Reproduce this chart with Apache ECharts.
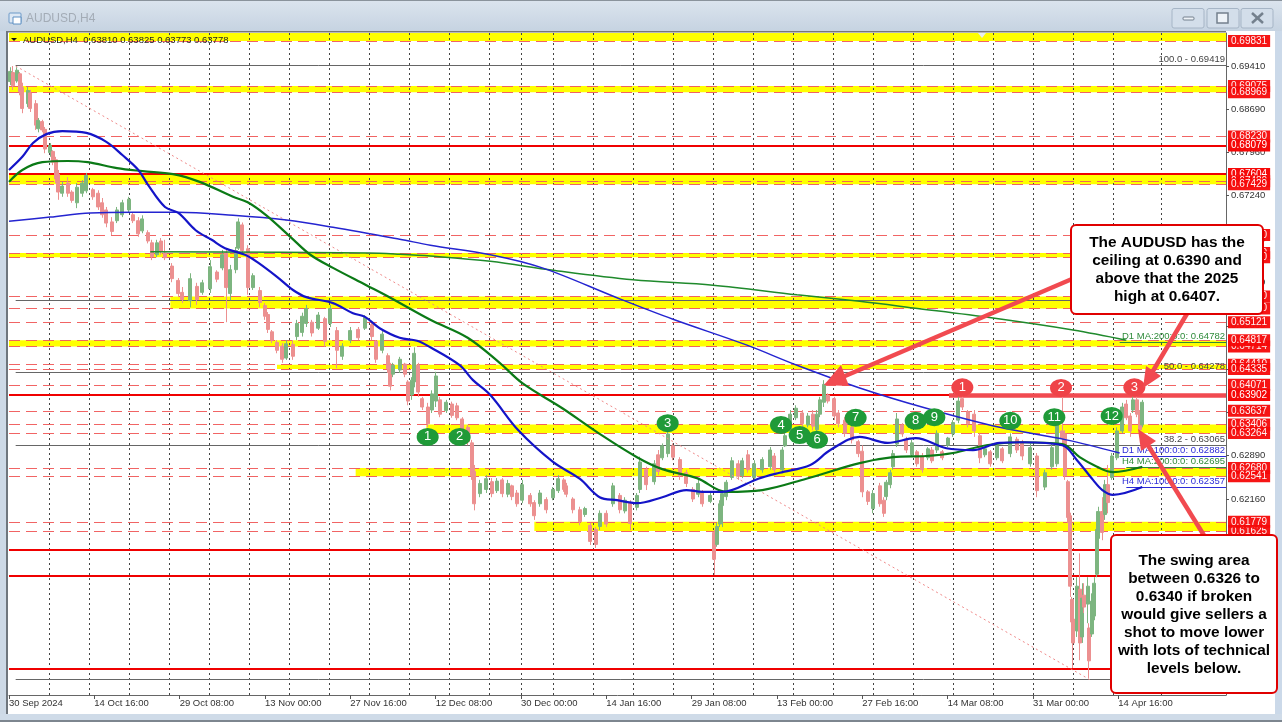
<!DOCTYPE html>
<html><head><meta charset="utf-8">
<style>html,body{margin:0;padding:0;background:#fff;overflow:hidden}#c{width:1282px;height:722px}</style>
<script src="https://cdn.jsdelivr.net/npm/echarts@6/dist/echarts.min.js"></script>
</head><body><div id="c"></div>
<script>
// candle positions in H4 bars since 30 Sep 2024, prices in pips (0.0001)
const barIndex=[1,3,6,8,10,14,16,20,22,25,27,31,33,35,37,40,44,47,51,55,58,63,67,70,73,77,81,85,90,93,
97,100,104,107,111,114,117,122,127,130,136,141,145,151,156,160,163,166,170,172,175,179,183,188,192,194,197,201,205,208,
213,216,220,223,227,232,237,241,246,250,256,262,267,272,275,280,284,286,288,293,297,299,302,304,307,310,314,317,320,323,
328,332,336,340,344,347,349,353,358,362,366,370,374,377,381,385,391,394,398,403,408,412,416,418,423,428,432,436,440,443,
448,453,458,462,466,471,473,478,484,487,490,494,498,503,508,513,517,520,526,529,531,533,535,538,542,547,550,554,559,565,
571,574,580,582,586,590,595,599,603,606,608,611,614,619,622,627,632,637,640,644,648,653,656,658,661,663,666,670,673,677,
681,685,689,692,696,700,704,708,712,715,719,724,728,732,736,741,745,751,756,760,766,771,777,782,786,790,792,794,796,797,
798,801,803,805,806,809,810,812,814,816,817,820,822,824,827,831,835,838,841,843,846,848,850];
const highs=[6939,6941,6939,6931,6913,6906,6901,6884,6854,6851,
6839,6812,6800,6789,6767,6747,6755,6733,6745,6750,
6762,6737,6733,6720,6705,6688,6705,6717,6722,6695,
6688,6691,6666,6650,6650,6653,6650,6611,6586,6571,
6594,6578,6583,6616,6599,6633,6633,6608,6638,6686,
6679,6641,6594,6571,6544,6529,6499,6482,6477,6482,
6482,6516,6528,6541,6516,6529,6521,6541,6504,6477,
6504,6504,6524,6511,6482,6499,6460,6444,6444,6454,
6444,6415,6420,6470,6444,6387,6377,6398,6429,6387,
6382,6379,6377,6353,6340,6315,6273,6248,6256,6251,
6251,6251,6248,6240,6231,6248,6226,6214,6231,6219,
6236,6256,6251,6243,6219,6203,6203,6176,6169,6197,
6197,6243,6226,6219,6214,6226,6287,6270,6281,6298,
6309,6331,6309,6286,6265,6236,6248,6231,6226,6164,
6176,6214,6231,6248,6286,6281,6285,6298,6281,6286,
6303,6293,6303,6326,6365,6373,6365,6360,6365,6365,
6387,6415,6393,6387,6365,6353,6341,6315,6306,6231,
6231,6243,6219,6248,6265,6298,6360,6343,6320,6315,
6298,6293,6303,6303,6331,6298,6320,6348,6387,6387,
6365,6365,6326,6303,6298,6309,6303,6326,6320,6315,
6309,6293,6265,6309,6360,6387,6331,6248,6193,6052,
6025,6085,6125,6075,6075,6085,6008,6058,6085,6176,
6203,6219,6248,6273,6293,6336,6377,6382,6360,6387,
6387,6365,6382];
const lows=[6909,6901,6913,6892,6862,6872,6864,6834,6830,6830,
6795,6789,6775,6745,6717,6722,6722,6712,6703,6722,
6728,6717,6700,6687,6671,6658,6678,6688,6695,6678,
6655,6661,6644,6616,6621,6625,6616,6579,6554,6544,
6537,6541,6558,6561,6579,6599,6512,6549,6594,6633,
6625,6558,6566,6537,6516,6494,6477,6460,6444,6449,
6449,6482,6488,6504,6488,6499,6471,6504,6435,6449,
6477,6482,6499,6482,6444,6460,6427,6398,6420,6427,
6420,6373,6382,6403,6387,6365,6336,6360,6370,6353,
6360,6352,6348,6320,6306,6248,6197,6219,6226,6219,
6226,6219,6219,6214,6203,6209,6203,6181,6203,6192,
6214,6226,6228,6219,6192,6172,6186,6139,6134,6164,
6169,6203,6192,6192,6164,6197,6226,6231,6240,6256,
6281,6286,6281,6248,6236,6211,6219,6203,6209,6089,
6136,6169,6169,6214,6248,6248,6251,6260,6248,6260,
6265,6260,6260,6303,6326,6348,6336,6336,6331,6326,
6353,6370,6376,6348,6336,6320,6309,6286,6219,6206,
6192,6203,6186,6214,6234,6265,6303,6320,6293,6286,
6270,6260,6281,6276,6293,6281,6303,6320,6343,6365,
6336,6320,6276,6286,6270,6281,6276,6286,6293,6281,
6270,6219,6231,6265,6270,6309,6248,6176,6052,6002,
5933,5985,5946,5975,6025,6008,5916,5985,6013,6085,
6118,6147,6181,6192,6248,6281,6326,6348,6320,6360,
6353,6326,6336];
const opens=[6915,6930,6916,6928,6905,6878,6896,6878,6836,6848,
6835,6796,6798,6784,6760,6728,6745,6730,6712,6728,
6732,6734,6728,6712,6700,6680,6682,6692,6700,6692,
6682,6665,6662,6645,6625,6648,6628,6606,6582,6562,
6548,6572,6562,6568,6596,6603,6628,6560,6600,6636,
6675,6635,6570,6565,6540,6525,6496,6478,6472,6452,
6475,6488,6495,6510,6512,6502,6518,6510,6498,6455,
6482,6500,6502,6508,6480,6465,6456,6440,6425,6432,
6442,6412,6390,6412,6440,6384,6370,6365,6380,6382,
6364,6375,6372,6350,6336,6310,6262,6225,6232,6245,
6230,6248,6224,6238,6226,6214,6222,6210,6208,6215,
6218,6230,6248,6238,6216,6198,6190,6172,6165,6170,
6192,6208,6222,6196,6210,6202,6232,6265,6245,6290,
6285,6292,6305,6282,6260,6232,6224,6228,6212,6160,
6140,6174,6205,6220,6252,6275,6255,6290,6252,6265,
6270,6288,6265,6305,6330,6352,6360,6340,6358,6332,
6358,6378,6390,6384,6360,6348,6336,6312,6296,6228,
6200,6238,6214,6220,6240,6270,6308,6340,6316,6290,
6295,6288,6285,6298,6298,6295,6306,6325,6348,6384,
6362,6358,6322,6290,6295,6285,6300,6292,6316,6310,
6275,6288,6236,6270,6275,6330,6325,6245,6188,6048,
6015,5995,6065,5985,6055,6040,6000,5990,6020,6090,
6150,6195,6190,6240,6252,6285,6330,6375,6355,6365,
6382,6360,6340];
const closes=[6932,6908,6934,6898,6870,6900,6870,6842,6850,6834,
6802,6808,6780,6752,6730,6740,6728,6716,6738,6745,
6758,6722,6705,6692,6678,6664,6700,6712,6718,6682,
6660,6685,6648,6622,6645,6630,6620,6585,6560,6550,
6585,6550,6578,6605,6584,6625,6570,6600,6632,6680,
6632,6570,6590,6545,6522,6500,6482,6465,6450,6476,
6455,6510,6522,6535,6494,6524,6480,6535,6465,6472,
6498,6486,6520,6488,6450,6492,6434,6405,6440,6450,
6425,6380,6415,6460,6395,6370,6342,6392,6422,6358,
6378,6356,6352,6326,6312,6255,6208,6242,6250,6225,
6246,6225,6242,6220,6208,6240,6208,6188,6226,6198,
6232,6250,6232,6224,6198,6178,6200,6145,6140,6192,
6174,6238,6198,6214,6175,6222,6278,6240,6275,6262,
6305,6325,6286,6255,6242,6216,6242,6208,6222,6115,
6170,6208,6225,6244,6280,6254,6280,6265,6275,6282,
6298,6265,6298,6322,6358,6368,6342,6355,6338,6358,
6382,6408,6380,6355,6342,6326,6315,6292,6228,6212,
6225,6208,6192,6244,6260,6292,6350,6325,6298,6310,
6275,6265,6300,6280,6326,6285,6318,6344,6380,6370,
6342,6330,6285,6300,6275,6305,6280,6320,6298,6288,
6302,6230,6260,6302,6345,6318,6255,6185,6070,6010,
5975,6070,5975,6050,6035,6070,5945,6045,6075,6165,
6195,6160,6240,6210,6288,6330,6370,6352,6330,6382,
6358,6332,6378];

// moving averages: [bar, pips]
const h4Ma100=[[0,6767],[10,6789],[18,6812],[28,6827],[40,6832],[58,6829],[73,6814],[85,6792],[97,6767],[104,6743],[117,6705],[127,6695],[140,6666],[152,6650],[162,6636],[177,6625],[186,6613],[201,6588],[213,6566],[223,6554],[243,6544],[258,6527],[267,6521],[278,6502],[293,6486],[306,6481],[316,6470],[338,6440],[348,6415],[361,6390],[382,6331],[408,6278],[428,6250],[443,6219],[456,6214],[471,6209],[490,6219],[508,6231],[520,6228],[535,6228],[562,6250],[578,6260],[601,6273],[616,6298],[638,6320],[659,6310],[680,6318],[703,6301],[723,6298],[743,6310],[760,6311],[790,6306],[801,6281],[813,6248],[820,6231],[828,6223],[850,6236]];
const h4Ma200=[[0,6747],[10,6767],[25,6780],[44,6782],[59,6780],[81,6770],[100,6765],[123,6760],[143,6747],[168,6722],[179,6713],[193,6691],[211,6655],[226,6625],[243,6603],[268,6574],[286,6553],[316,6516],[344,6486],[368,6444],[385,6410],[415,6368],[441,6328],[471,6286],[490,6266],[516,6251],[538,6228],[565,6231],[598,6250],[638,6276],[663,6286],[688,6288],[708,6293],[733,6306],[758,6311],[790,6308],[803,6286],[816,6270],[828,6261],[850,6270]];
const d1Ma100=[[0,6681],[31,6688],[61,6695],[93,6696],[126,6696],[168,6691],[208,6683],[243,6671],[293,6651],[316,6641],[361,6625],[400,6603],[456,6553],[498,6517],[553,6474],[591,6440],[638,6402],[688,6368],[743,6336],[793,6315],[833,6293]];
const d1Ma200=[[106,6630],[269,6628],[293,6626],[316,6623],[361,6614],[408,6599],[468,6583],[528,6574],[591,6558],[638,6547],[678,6536],[738,6519],[798,6499],[838,6482]];
const fibTrend=[[5,6941],[811,5913]];

const dateTicks=[0,64,128,192,256,320,384,448,512,576,640,704,768,832];
const dateLabels=["30 Sep 2024","14 Oct 16:00","29 Oct 08:00","13 Nov 00:00","27 Nov 16:00","12 Dec 08:00","30 Dec 00:00","14 Jan 16:00","29 Jan 08:00","13 Feb 00:00","27 Feb 16:00","14 Mar 08:00","31 Mar 00:00","14 Apr 16:00"];
const weekSeparators=[30,60,90,120,150,180,210,240,270,300,330,360,384,408,438,468,498,528,558,588,618,648,678,708,738,768,798,828,864];
const priceTicks=[0.6941,0.6869,0.6796,0.6724,0.6651,0.6579,0.6506,0.6434,0.6361,0.6289,0.6216,0.6144,0.6071];

// yellow zones: [upper, lower, first bar]
const bandUpper=[0.69963,0.69075,0.67604,0.6628,0.6555,0.64817,0.6441,0.63406,0.6268,0.61779];
const bandLower=[0.69831,0.68969,0.67429,0.6621,0.6535,0.64714,0.64335,0.63264,0.62541,0.61625];
const bandStart=[0,0,0,0,121,0,201,313,260,394];

// horizontal levels in paint order; solid ones flagged
const levelPrices=[0.63778,0.69831,0.69075,0.68969,0.6823,0.68079,0.67604,0.6748,0.67429,0.6658,0.6628,0.6621,0.6555,0.6535,0.65121,0.64714,0.64817,0.6441,0.64335,0.64071,0.63902,0.63637,0.63406,0.63264,0.6268,0.62541,0.61625,0.61779,0.61307,0.6087,0.5932];
const levelSolid =[2,0,0,0,0,1,1,0,0,0,0,0,0,0,0,0,0,0,0,0,1,0,0,0,0,0,0,0,1,1,1];

const fibPrices=[0.69419,0.6549,0.64278,0.63065,0.59141];
const fibNames=["100.0 - 0.69419","","50.0 - 0.64278","38.2 - 0.63065",""];
const maLevelPrices=[0.64782,0.62882,0.62695,0.62357];
const maLevelNames=["D1 MA:200:0:0: 0.64782","D1 MA:100:0:0: 0.62882","H4 MA:200:0:0: 0.62695","H4 MA:100:0:0: 0.62357"];
const maLevelColors=["#2e8b3a","#2c2cd8","#2e8b3a","#2c2cd8"];
const maLevelStart=[833,833,838,838];

const greenNotes=[[314,6320],[338,6320],[494,6343],[579,6340],[593,6323],[606,6315],[635,6352],[680,6347],[694,6353],[751,6347],[784,6353],[827,6355]];
const redNotes=[[715,6403],[789,6402],[844,6403]];

const FONT='"Liberation Sans",Arial,sans-serif';
const XMAX=912.75, YMIN=0.58878, YMAX=0.69963;
const px=v=>v/10000;
const pairs=a=>a.map(p=>[p[0],px(p[1])]);

const candleData=barIndex.map((b,i)=>[b,px(opens[i]),px(closes[i]),px(lows[i]),px(highs[i])]);
const ellipse='path://M0 8A10 8 0 1 1 20 8A10 8 0 1 1 0 8Z';

const bandAreas=bandUpper.map((u,i)=>[{coord:[bandStart[i],u]},{coord:[XMAX,bandLower[i]]}]);
const sepLines=weekSeparators.map(b=>[{coord:[b,YMIN]},{coord:[b,YMAX]}]);
const levelLines=levelPrices.map((p,i)=>{
  const s=levelSolid[i];
  return [{coord:[s===2?XMAX-0.1:0,p],
    lineStyle:s===1?{color:'#f00000',width:2,type:'solid',opacity:1}:
              s===2?{opacity:0}:{color:'#f05c5c',width:1,type:[11,6],opacity:.95},
    label:{show:true,position:'end',distance:2,formatter:p.toFixed(5),color:'#fff',
      backgroundColor:s===2?'#000':'#f50808',padding:[1,3,0,3],fontSize:10,lineHeight:11,fontFamily:FONT}},
    {coord:[XMAX,p]}];
});
const fibLines=fibPrices.map((p,i)=>[{coord:[5,p],lineStyle:{color:'#666',width:1,type:'solid'},
   label:{show:!!fibNames[i],position:'insideEndTop',distance:1,formatter:fibNames[i],color:'#444',fontSize:9.5,fontFamily:FONT,padding:[0,0,0,0]}},{coord:[XMAX,p]}]);
const maLines=maLevelPrices.map((p,i)=>[{coord:[maLevelStart[i],p],lineStyle:{color:maLevelColors[i],width:1,type:'solid'},
   label:{show:true,position:'insideEndTop',distance:1,formatter:maLevelNames[i],color:maLevelColors[i],fontSize:9.5,fontFamily:FONT}},{coord:[XMAX,p]}]);

const arrow=(x1,y1,x2,y2,pts)=>[
 {type:'line',z:190,shape:{x1,y1,x2,y2},style:{stroke:'#f14a50',lineWidth:4.5}},
 {type:'polygon',z:190,shape:{points:pts},style:{fill:'#f14a50'}}];
const callout=(x,y,w,h,lines,ty)=>[
 {type:'rect',z:200,shape:{x,y,width:w,height:h,r:5},style:{fill:'#fff',stroke:'#e00000',lineWidth:2}},
 ...lines.map((t,i)=>({type:'text',z:201,style:{x:x+w/2,y:ty+i*18,text:t,align:'center',verticalAlign:'middle',
    font:'bold 15.4px '+FONT,fill:'#000'}}))];
const winBtn=x=>({type:'rect',shape:{x,y:8.5,width:32,height:19.5,r:2},style:{fill:'#d3deea',stroke:'#a6b5c6',lineWidth:1}});

const chrome=[
 {type:'rect',z:-5,shape:{x:0,y:0,width:1282,height:31},style:{fill:{type:'linear',x:0,y:0,x2:0,y2:1,colorStops:[{offset:0,color:'#dbe4ee'},{offset:1,color:'#c6d3e1'}]}}},
 {type:'rect',z:-5,shape:{x:0,y:0,width:1282,height:1},style:{fill:'#8a939c'}},
 {type:'rect',z:-5,shape:{x:0,y:31,width:6,height:691},style:{fill:'#cdd9e6'}},
 {type:'rect',z:-5,shape:{x:6,y:31,width:2,height:683},style:{fill:'#6f767d'}},
 {type:'rect',z:-5,shape:{x:8,y:31,width:1218,height:1.5},style:{fill:'#777'}},
 {type:'rect',z:-5,shape:{x:1275,y:31,width:7,height:691},style:{fill:'#cbd9e9'}},
 {type:'rect',z:-5,shape:{x:0,y:714,width:1282,height:8},style:{fill:'#cfdbe8'}},
 {type:'rect',z:-5,shape:{x:0,y:720,width:1282,height:2},style:{fill:'#7d868f'}},
 {type:'rect',z:-4,shape:{x:9,y:13,width:12,height:10,r:1},style:{fill:'#dde8f4',stroke:'#6d9ac8',lineWidth:1}},
 {type:'rect',z:-4,shape:{x:13,y:17,width:8,height:7},style:{fill:'#fff',stroke:'#5d8fc2',lineWidth:1}},
 {type:'text',z:-4,style:{x:26,y:19,text:'AUDUSD,H4',font:'12px '+FONT,fill:'#a3acb6',verticalAlign:'middle'}},
 winBtn(1172),winBtn(1207),winBtn(1241),
 {type:'rect',shape:{x:1183,y:17,width:11,height:3,r:1},style:{fill:'#eef3f8',stroke:'#74808d',lineWidth:1}},
 {type:'rect',shape:{x:1217,y:13,width:11,height:10},style:{fill:'#eef3f8',stroke:'#74808d',lineWidth:1.5}},
 {type:'line',shape:{x1:1252,y1:13,x2:1263,y2:23},style:{stroke:'#74808d',lineWidth:2.5}},
 {type:'line',shape:{x1:1263,y1:13,x2:1252,y2:23},style:{stroke:'#74808d',lineWidth:2.5}},
 {type:'polygon',z:50,shape:{points:[[978,33],[986,33],[982,38]]},style:{fill:'#e8eef0'}},
 {type:'polygon',z:50,shape:{points:[[11,38],[17,38],[14,41]]},style:{fill:'#111'}},
 {type:'text',z:50,style:{x:23,y:40,text:'AUDUSD,H4  0.63810 0.63825 0.63773 0.63778',font:'9.5px '+FONT,fill:'#222',verticalAlign:'middle'}}
];
const notes=[
 ...arrow(1072,279,838,379,[[824,385],[849,386],[841,365]]),
 ...arrow(1188,312,1150,376,[[1143,388],[1161,376],[1146,366]]),
 ...arrow(1205,537,1146,442,[[1138,429],[1156,441],[1141,451]]),
 ...callout(1071,225,192,89,["The AUDUSD has the","ceiling at 0.6390 and","above that the 2025","high at 0.6407."],243),
 ...callout(1111,535,166,158,["The swing area","between 0.6326 to","0.6340 if broken","would give sellers a","shot to move lower","with lots of technical","levels below."],561)
];

const helper=(z,extra)=>Object.assign({type:'line',data:[],z,silent:true,clip:false,symbol:'none'},extra);
const maSeries=(data,color,width,z)=>({type:'line',data:pairs(data),showSymbol:false,symbol:'none',smooth:.35,z,silent:true,lineStyle:{color,width}});
const noteSeries=(data,color)=>({type:'scatter',z:30,data:pairs(data),symbol:ellipse,symbolSize:[22,18],symbolKeepAspect:false,silent:true,
  itemStyle:{color,opacity:1},label:{show:true,position:'inside',formatter:p=>String(p.dataIndex+1),color:'#fff',fontSize:13,fontFamily:FONT}});

const chart=echarts.init(document.getElementById('c'),null,{renderer:'canvas',width:1282,height:722});
chart.setOption({
 animation:false,backgroundColor:'#fff',
 grid:{left:9,top:33,width:1217,height:662,show:false,containLabel:false},
 xAxis:{type:'value',min:0,max:XMAX,
   axisLine:{show:true,onZero:false,lineStyle:{color:'#666'}},splitLine:{show:false},
   axisTick:{show:true,length:4,customValues:dateTicks,lineStyle:{color:'#555'}},
   axisLabel:{customValues:dateTicks,align:'left',margin:3,fontSize:9.5,fontFamily:FONT,color:'#333',showMinLabel:true,showMaxLabel:true,hideOverlap:false,
     formatter:v=>dateLabels[dateTicks.indexOf(Math.round(v))]||''}},
 yAxis:{type:'value',position:'right',min:YMIN,max:YMAX,scale:true,
   axisLine:{show:true,onZero:false,lineStyle:{color:'#666'}},splitLine:{show:false},
   axisTick:{show:true,length:3,customValues:priceTicks,lineStyle:{color:'#555'}},
   axisLabel:{customValues:priceTicks,margin:5,fontSize:9.5,fontFamily:FONT,color:'#333',hideOverlap:false,formatter:v=>v.toFixed(5)}},
 series:[
  helper(1,{markArea:{silent:true,itemStyle:{color:'#ffff00',opacity:1},data:bandAreas}}),
  helper(2,{markLine:{silent:true,symbol:'none',animation:false,lineStyle:{color:'#444',width:1,type:[2,3]},label:{show:false},data:sepLines}}),
  helper(3,{markLine:{silent:true,symbol:'none',animation:false,data:levelLines}}),
  helper(4,{markLine:{silent:true,symbol:'none',animation:false,data:fibLines}}),
  {type:'candlestick',z:5,silent:true,clip:false,data:candleData,barWidth:3.2,
   itemStyle:{color:'#7db580',color0:'#ec9090',borderColor:'#7db580',borderColor0:'#ec9090',borderWidth:1}},
  {type:'line',z:6,silent:true,data:pairs(fibTrend),symbol:'none',lineStyle:{color:'#f08a8a',width:1,type:[2,3]}},
  maSeries(d1Ma200,'#1f8a2c',1.5,7),
  maSeries(d1Ma100,'#2424d0',1.5,7),
  maSeries(h4Ma200,'#0b7a16',2.2,8),
  maSeries(h4Ma100,'#1414c8',2.2,8),
  helper(9,{markLine:{silent:true,symbol:'none',animation:false,data:maLines}}),
  helper(10,{markLine:{silent:true,symbol:'none',animation:false,data:[[{coord:[705,0.63902],lineStyle:{color:'#f14a50',width:4.5,type:'solid'},label:{show:false}},{coord:[XMAX,0.63902]}]]}}),
  noteSeries(greenNotes,'#1f9a38'),
  noteSeries(redNotes,'#ef4348')
 ],
 graphic:{elements:[...chrome,...notes]}
});
</script></body></html>
